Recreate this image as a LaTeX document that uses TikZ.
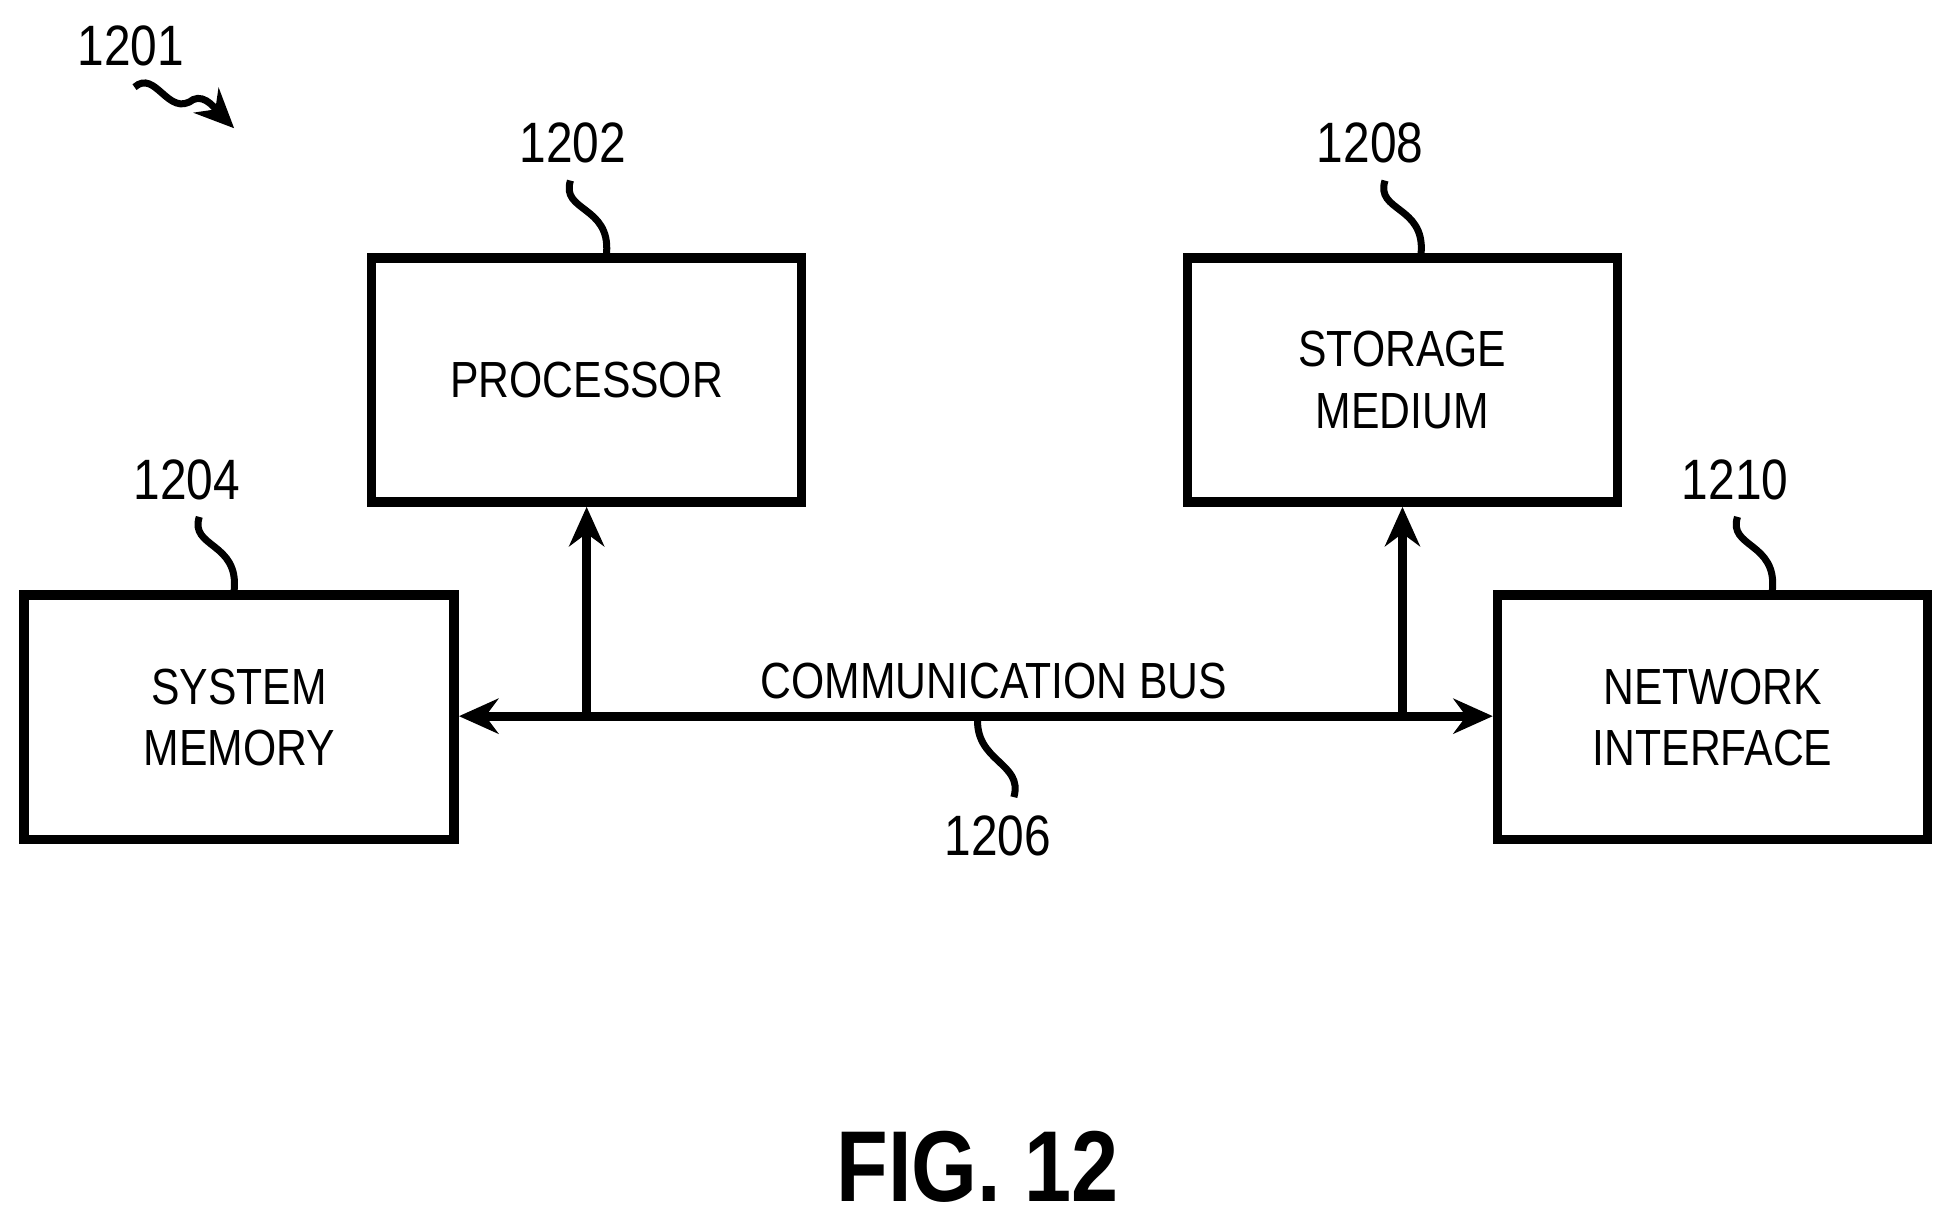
\documentclass[tikz,border=0pt]{standalone}
\usepackage{fontspec}
\setmainfont[FakeStretch=0.84]{Liberation Sans}
\usetikzlibrary{positioning,arrows.meta}
\begin{document}
\begin{tikzpicture}[%
    x=0.01cm, y=-0.01cm,
    >=stealth,
    block/.style={draw, line width=2.2pt, minimum width=3.45cm, minimum height=1.96cm, align=center, font=\fontsize{11.6}{14}\selectfont},
    ref/.style={font=\fontsize{13}{16}\selectfont},
    lead/.style={line width=1.6pt},
    bus/.style={->, line width=2pt, >={Stealth[length=9pt,width=8pt]}}
  ]
  \useasboundingbox (0,0) rectangle (1568,983);

  \node[block] (PROC) at (471,305) {PROCESSOR};
  \node[block] (STOR) at (1126,305) {STORAGE\\MEDIUM};
  \node[block] (MEM) at (192,576) {SYSTEM\\MEMORY};
  \node[block] (NET) at (1375,576) {NETWORK\\INTERFACE};

  \coordinate (busL) at (471,575);
  \coordinate (busR) at (1126,575);
  \coordinate (busM) at (785,575);

  \draw[bus, <->] (MEM.east |- busL) -- (NET.west |- busR);
  \draw[bus] (busL) -- (PROC.south);
  \draw[bus] (busR) -- (STOR.south);
  \node[font=\fontsize{11.6}{14}\selectfont] (BUS) at (798,547) {COMMUNICATION BUS};

  % reference numerals
  \node[ref] (R1201) at (105,37) {1201};
  \node[ref] (R1202) at (460,115) {1202};
  \node[ref] (R1204) at (150,385) {1204};
  \node[ref] (R1206) at (801,671) {1206};
  \node[ref] (R1208) at (1100,115) {1208};
  \node[ref] (R1210) at (1393,385) {1210};

  \draw[lead, ->, >={Stealth[length=9pt,width=8pt]}] (108,70) .. controls (125,55) and (135,95) .. (155,80) .. controls (165,75) and (175,90) .. (188,103);
  \draw[lead] (458,145) .. controls (450,170) and (490,165) .. (PROC.north -| 487,0);
  \draw[lead] (160,415) .. controls (152,440) and (192,435) .. (MEM.north -| 188,0);
  \draw[lead] (1112,145) .. controls (1104,170) and (1144,165) .. (STOR.north -| 1141,0);
  \draw[lead] (1395,415) .. controls (1387,440) and (1427,435) .. (NET.north -| 1423,0);
  \draw[lead] (814,640) .. controls (822,612) and (782,612) .. (busM);

  \node[font=\fontsize{23}{28}\selectfont\bfseries] (FIG) at (785,937) {FIG. 12};
\end{tikzpicture}
\end{document}
